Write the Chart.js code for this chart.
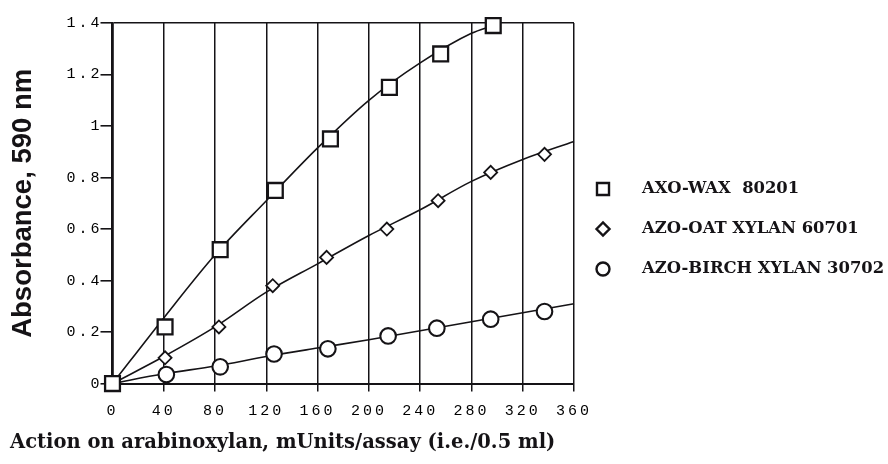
<!DOCTYPE html>
<html lang="en">
<head>
    <meta charset="UTF-8">
    <title>Azo-xylan standard curves</title>
    <style>
        html, body { margin: 0; padding: 0; background: #fff; }
        #chartBox { position: relative; width: 888px; height: 464px; }
    </style>
</head>
<body>
    <div id="chartBox"><canvas id="myChart"></canvas></div>

    <script src="https://cdn.jsdelivr.net/npm/chart.js"></script>

    <script>
// values
const xTicks = [0, 40, 80, 120, 160, 200, 240, 280, 320, 360];
const yTicks = [0, 0.2, 0.4, 0.6, 0.8, 1, 1.2, 1.4];

// measured points (markers)
const waxX = [0, 41, 84, 127, 170, 216, 256, 297];
const waxY = [0, 0.22, 0.52, 0.75, 0.95, 1.15, 1.28, 1.39];

const oatX = [41, 83, 125, 167, 214, 254, 295, 337];
const oatY = [0.10, 0.22, 0.38, 0.49, 0.60, 0.71, 0.82, 0.89];

const birchX = [42, 84, 126, 168, 215, 253, 295, 337];
const birchY = [0.035, 0.065, 0.115, 0.135, 0.185, 0.215, 0.25, 0.28];

// fitted curves as drawn
const waxFitX = [0, 40, 80, 120, 160, 200, 240, 280, 297];
const waxFitY = [0, 0.255, 0.50, 0.71, 0.915, 1.10, 1.245, 1.36, 1.39];

const oatFitX = [0, 40, 80, 120, 160, 200, 240, 280, 320, 360];
const oatFitY = [0, 0.105, 0.22, 0.355, 0.465, 0.575, 0.675, 0.785, 0.87, 0.94];

const birchFitX = [0, 40, 80, 120, 160, 200, 240, 280, 320, 360];
const birchFitY = [0, 0.038, 0.068, 0.105, 0.138, 0.17, 0.205, 0.24, 0.275, 0.31];

const seriesNames = ['AXO-WAX  80201', 'AZO-OAT XYLAN 60701', 'AZO-BIRCH XYLAN 30702'];

const xTitle = 'Action on arabinoxylan, mUnits/assay (i.e./0.5 ml)';
const yTitle = 'Absorbance, 590 nm';

function pts(xs, ys) {
    return xs.map((x, i) => ({x: x, y: ys[i]}));
}

const ink = '#151316';

function markers(label, xs, ys, style, r, bw) {
    return {
        label: label,
        data: pts(xs, ys),
        showLine: false,
        pointStyle: style,
        pointRadius: r,
        pointBorderWidth: bw,
        pointBorderColor: ink,
        pointBackgroundColor: '#fff',
        borderColor: ink,
        backgroundColor: '#fff',
        clip: false,
        order: 0
    };
}
function curve(xs, ys) {
    return {
        label: '',
        data: pts(xs, ys),
        pointRadius: 0,
        borderColor: ink,
        borderWidth: 1.6,
        cubicInterpolationMode: 'monotone',
        clip: false,
        order: 1,
        fitCurve: true
    };
}

// legend drawn to the right of the plot, like the original
const sideLegend = {
    id: 'sideLegend',
    afterDraw(chart) {
        const c = chart.ctx;
        const area = chart.chartArea;
        const sizes = {rect: 8.5, rectRot: 6.5, circle: 6.5};
        let row = 0;
        c.save();
        c.letterSpacing = '0px';
        chart.data.datasets.forEach((ds) => {
            if (ds.fitCurve) return;
            const y = area.top + 166 + row * 40;
            const x = area.right + 29;
            c.lineWidth = 2.4;
            c.strokeStyle = ink;
            c.fillStyle = '#fff';
            Chart.helpers.drawPoint(c, {pointStyle: ds.pointStyle, rotation: 0, radius: sizes[ds.pointStyle], borderWidth: 2.4}, x, y);
            c.fillStyle = ink;
            c.font = 'bold 16.4px "DejaVu Serif"';
            c.textBaseline = 'middle';
            c.textAlign = 'left';
            c.fillText(ds.label, area.right + 68, y);
            row++;
        });
        c.restore();
    }
};

// typewriter-style spaced tick labels (ticks are drawn after the datasets, z: 1)
const spacedTicks = {
    id: 'spacedTicks',
    afterDatasetsDraw(chart) { chart.ctx.letterSpacing = '3px'; },
    afterDraw(chart) { chart.ctx.letterSpacing = '0px'; }
};

const ctx = document.getElementById('myChart');

new Chart(ctx, {
    type: 'line',
    data: {
        datasets: [
            markers(seriesNames[0], waxX, waxY, 'rect', 10.5, 2.3),
            markers(seriesNames[1], oatX, oatY, 'rectRot', 6.5, 1.8),
            markers(seriesNames[2], birchX, birchY, 'circle', 7.8, 2.1),
            curve(waxFitX, waxFitY),
            curve(oatFitX, oatFitY),
            curve(birchFitX, birchFitY)
        ]
    },
    plugins: [sideLegend, spacedTicks],
    options: {
        responsive: true,
        maintainAspectRatio: false,
        animation: false,
        layout: {
            padding: {left: 10, right: 314, top: 23, bottom: 6}
        },
        scales: {
            x: {
                type: 'linear',
                min: 0,
                max: 360,
                afterBuildTicks: (scale) => { scale.ticks = xTicks.map(v => ({value: v})); },
                ticks: {
                    color: '#000',
                    font: {family: 'Liberation Mono', size: 15},
                    padding: 10,
                    maxRotation: 0,
                    z: 1
                },
                grid: {
                    color: ink,
                    lineWidth: 1.5,
                    tickLength: 8,
                    tickColor: ink
                },
                border: {display: true, color: ink, width: 2}
            },
            y: {
                min: 0,
                max: 1.4,
                afterBuildTicks: (scale) => { scale.ticks = yTicks.map(v => ({value: v})); },
                ticks: {
                    color: '#000',
                    font: {family: 'Liberation Mono', size: 15},
                    padding: -2,
                    z: 1,
                    callback: (v) => String(Math.round(v * 10) / 10)
                },
                grid: {
                    color: (c) => (c.tick && c.tick.value === 1.4) ? ink : 'rgba(0,0,0,0)',
                    lineWidth: 1.6,
                    tickLength: 12,
                    tickColor: ink
                },
                border: {display: true, color: ink, width: 2.6},
                title: {
                    display: true,
                    text: yTitle,
                    color: ink,
                    font: {family: 'Liberation Sans', size: 27.5, weight: 'bold', lineHeight: 1},
                    padding: {top: 0, bottom: 40}
                }
            }
        },
        plugins: {
            legend: {display: false},
            title: {
                display: true,
                position: 'bottom',
                align: 'start',
                text: xTitle,
                color: ink,
                font: {family: 'DejaVu Serif', size: 19.5, weight: 'bold'},
                padding: {top: 2, bottom: 3}
            },
            tooltip: {enabled: false}
        }
    }
});
    </script>
</body>
</html>
